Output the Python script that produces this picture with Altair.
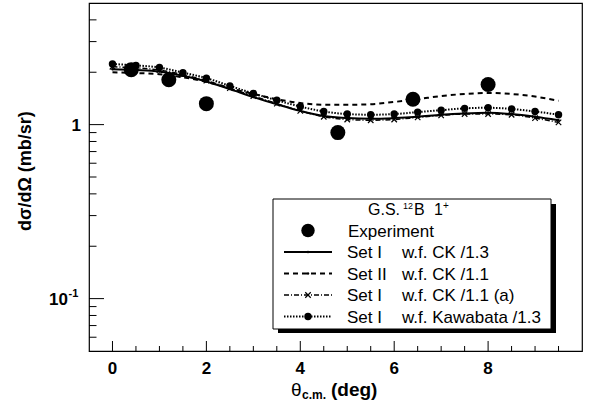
import altair as alt
import pandas as pd

# Angular grid of the calculations (deg, c.m.)
theta = [0.0, 0.5, 1.0, 1.5, 2.0, 2.5, 3.0, 3.5, 4.0, 4.5,
         5.0, 5.5, 6.0, 6.5, 7.0, 7.5, 8.0, 8.5, 9.0, 9.5]

# Calculated cross sections (mb/sr)
set1_ck_13 = [2.08, 2.06, 2.02, 1.91, 1.77, 1.60, 1.44, 1.31, 1.20, 1.12,
              1.09, 1.08, 1.09, 1.11, 1.14, 1.16, 1.17, 1.15, 1.11, 1.06]
set2_ck_11 = [2.00, 1.98, 1.95, 1.87, 1.76, 1.62, 1.50, 1.40, 1.33, 1.30,
              1.30, 1.31, 1.35, 1.40, 1.46, 1.50, 1.52, 1.50, 1.45, 1.37]
set1_ck_11a = [2.15, 2.12, 2.06, 1.94, 1.79, 1.62, 1.46, 1.32, 1.20, 1.11,
               1.07, 1.06, 1.07, 1.10, 1.13, 1.15, 1.15, 1.14, 1.09, 1.03]
set1_kaw_13 = [2.23, 2.19, 2.13, 1.99, 1.85, 1.67, 1.51, 1.38, 1.27, 1.19,
               1.15, 1.14, 1.15, 1.18, 1.21, 1.24, 1.25, 1.23, 1.19, 1.14]

# Measured points
exp_theta = [0.4, 1.2, 2.0, 4.8, 6.4, 8.0]
exp_xs = [2.07, 1.81, 1.32, 0.90, 1.40, 1.70]

# Axis ticks
x_major = [0, 2, 4, 6, 8]
x_minor = [0.5, 1, 1.5, 2.5, 3, 3.5, 4.5, 5, 5.5, 6.5, 7, 7.5, 8.5, 9, 9.5]
y_minor = [0.06, 0.07, 0.08, 0.09, 0.2, 0.3, 0.4, 0.5, 0.6, 0.7, 0.8, 0.9,
           2, 3, 4]
y_major = [0.1, 1]

# Legend text
legend_title = ["G.S.", "12", "B", "1", "+"]
legend_set = ["Set I", "Set II", "Set I", "Set I"]
legend_wf = ["w.f. CK /1.3", "w.f. CK /1.1", "w.f. CK /1.1 (a)",
             "w.f. Kawabata /1.3"]

W, H = 493, 348
LEFT, TOP = 89, 3
FONT = "Liberation Sans"


def px(x):
    return x - LEFT


def py(y):
    return y - TOP


xscale = alt.Scale(domain=[-0.5, 10], nice=False, zero=False)
yscale = alt.Scale(type="log", domain=[0.05, 5], nice=False)


def X(f):
    return alt.X(f, type="quantitative", scale=xscale, axis=None)


def Y(f):
    return alt.Y(f, type="quantitative", scale=yscale, axis=None)


one = pd.DataFrame({"k": [0]})
X_SHAPE = "M-1,-1L1,1M-1,1L1,-1"

layers = []

# ---- calculated curves
curves = [
    (set1_ck_13, {}, 2.0, dict(shape="circle", size=6, filled=True)),
    (set2_ck_11, {"strokeDash": [5, 4]}, 2.0, None),
    (set1_ck_11a, {"strokeDash": [5, 2, 1, 2]}, 1.5,
     dict(shape=X_SHAPE, size=30, filled=False, strokeWidth=1.2)),
    (set1_kaw_13, {"strokeDash": [1.5, 1.5]}, 2.0,
     dict(shape="circle", size=55, filled=True)),
]
for vals, dash, lw, marker in curves:
    df = pd.DataFrame({"theta": theta, "xs": vals})
    layers.append(
        alt.Chart(df).mark_line(color="black", strokeWidth=lw,
                                interpolate="monotone", clip=True, **dash)
        .encode(x=X("theta"), y=Y("xs"))
    )
    if marker is not None:
        layers.append(
            alt.Chart(df).mark_point(color="black", opacity=1, **marker)
            .encode(x=X("theta"), y=Y("xs"))
        )

# ---- experiment
exp_df = pd.DataFrame({"theta": exp_theta, "xs": exp_xs})
layers.append(
    alt.Chart(exp_df).mark_point(shape="circle", filled=True, size=225,
                                 color="black", opacity=1)
    .encode(x=X("theta"), y=Y("xs"))
)

# ---- ticks drawn inside the frame
layers.append(
    alt.Chart(pd.DataFrame({"t": x_major})).mark_rule(color="black", strokeWidth=1)
    .encode(x=X("t"), y=alt.value(H), y2=alt.value(H - 10))
)
layers.append(
    alt.Chart(pd.DataFrame({"t": x_minor})).mark_rule(color="black", strokeWidth=1)
    .encode(x=X("t"), y=alt.value(H), y2=alt.value(H - 5))
)
layers.append(
    alt.Chart(pd.DataFrame({"t": y_major})).mark_rule(color="black", strokeWidth=1)
    .encode(y=Y("t"), x=alt.value(0), x2=alt.value(15))
)
layers.append(
    alt.Chart(pd.DataFrame({"t": y_minor})).mark_rule(color="black", strokeWidth=1)
    .encode(y=Y("t"), x=alt.value(0), x2=alt.value(7.5))
)

# ---- tick labels
layers.append(
    alt.Chart(pd.DataFrame({"t": x_major})).mark_text(
        font=FONT, fontSize=17, fontWeight="bold", align="center",
        baseline="alphabetic", color="black")
    .encode(x=X("t"), y=alt.value(py(374)), text=alt.Text("t:Q", format="d"))
)
layers.append(
    alt.Chart(pd.DataFrame({"t": [1]})).mark_text(
        font=FONT, fontSize=17, fontWeight="bold", align="right",
        baseline="alphabetic", dy=6, color="black", text="1")
    .encode(y=Y("t"), x=alt.value(px(81)))
)
layers.append(
    alt.Chart(pd.DataFrame({"t": [0.1]})).mark_text(
        font=FONT, fontSize=17, fontWeight="bold", align="right",
        baseline="alphabetic", dy=6, color="black", text="10")
    .encode(y=Y("t"), x=alt.value(px(68)))
)
layers.append(
    alt.Chart(pd.DataFrame({"t": [0.1]})).mark_text(
        font=FONT, fontSize=11, fontWeight="bold", align="left",
        baseline="alphabetic", dy=-2, color="black", text="-1")
    .encode(y=Y("t"), x=alt.value(px(68.5)))
)


def label(txt, x, y, size=17, weight="normal", align="left", angle=0,
          baseline="alphabetic"):
    kw = dict(font=FONT, fontSize=size, fontWeight=weight, align=align,
              baseline=baseline, color="black", text=txt)
    if angle:
        kw["angle"] = angle
    return alt.Chart(one).mark_text(**kw).encode(
        x=alt.value(px(x)), y=alt.value(py(y)))


# ---- axis titles
layers.append(label("d\u03c3/d\u03a9 (mb/sr)", 26, 171, size=18, weight="bold",
                    align="center", angle=270, baseline="middle"))
layers.append(label("\u03b8", 291, 396, size=19))
layers.append(label("c.m.", 302, 399, size=12, weight="bold"))
layers.append(label("(deg)", 331, 396, size=19, weight="bold"))

# ---- legend box with shadow
layers.append(
    alt.Chart(one).mark_rect(color="black")
    .encode(x=alt.value(px(278)), x2=alt.value(px(556)),
            y=alt.value(py(204)), y2=alt.value(py(333)))
)
layers.append(
    alt.Chart(one).mark_rect(fill="white", stroke="black", strokeWidth=1)
    .encode(x=alt.value(px(273)), x2=alt.value(px(551)),
            y=alt.value(py(199)), y2=alt.value(py(329)))
)

# title: G.S. 12B 1+
layers.append(label(legend_title[0], 368, 215, size=16))
layers.append(label(legend_title[1], 403, 209, size=9))
layers.append(label(legend_title[2], 414, 215, size=16))
layers.append(label(legend_title[3], 434, 215, size=16))
layers.append(label(legend_title[4], 443, 209, size=10))

# experiment row
row_y = [230.5, 252, 273.5, 295, 316.5]
layers.append(
    alt.Chart(one).mark_point(shape="circle", filled=True, size=180,
                              color="black", opacity=1)
    .encode(x=alt.value(px(308)), y=alt.value(py(row_y[0])))
)
layers.append(label("Experiment", 348, row_y[0] + 6))

# calculation rows
for i, (vals, dash, lw, marker) in enumerate(curves):
    yy = py(row_y[i + 1])
    layers.append(
        alt.Chart(one).mark_rule(color="black", strokeWidth=lw, **dash)
        .encode(x=alt.value(px(284)), x2=alt.value(px(332)),
                y=alt.value(yy))
    )
    mk = marker if marker is not None else dict(shape="circle", size=6,
                                                filled=True)
    layers.append(
        alt.Chart(one).mark_point(color="black", opacity=1, **mk)
        .encode(x=alt.value(px(308)), y=alt.value(yy))
    )
    layers.append(label(legend_set[i], 347, row_y[i + 1] + 6))
    layers.append(label(legend_wf[i], 402, row_y[i + 1] + 6))

chart = (
    alt.layer(*layers)
    .properties(width=W, height=H,
                padding={"left": LEFT, "top": TOP, "right": 7, "bottom": 64},
                autosize=alt.AutoSizeParams(type="none"),
                background="white")
    .configure_view(stroke="black", strokeWidth=1.2)
)

chart.save("out.html", embed_options={"renderer": "svg", "actions": False})
